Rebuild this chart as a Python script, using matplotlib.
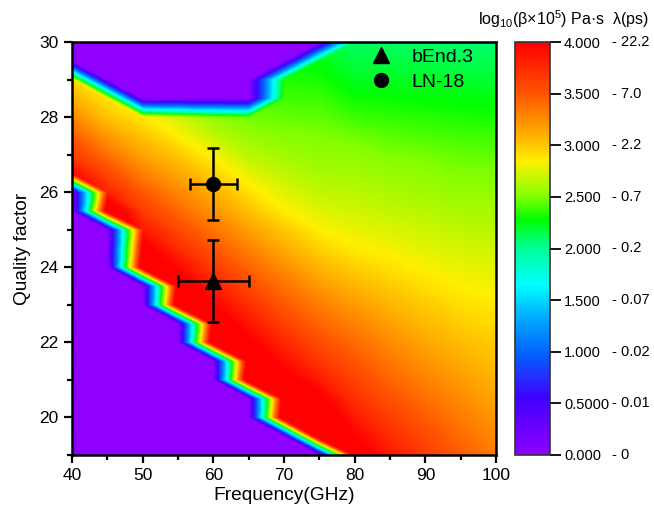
import numpy as np
import matplotlib
matplotlib.use('Agg')
import matplotlib.pyplot as plt
import matplotlib.tri as mtri
from matplotlib.colors import LinearSegmentedColormap
from matplotlib.ticker import MultipleLocator
from matplotlib.transforms import blended_transform_factory

plt.rcParams['font.family'] = ['Liberation Sans', 'DejaVu Sans']
plt.rcParams['mathtext.fontset'] = 'custom'
plt.rcParams['mathtext.rm'] = 'Liberation Sans'

# ---------------- data ----------------
freq_nodes = [40, 45, 50, 55, 60, 65, 70, 75, 80, 85, 90, 95, 100]
q_nodes = [30.0, 29.5, 29.0, 28.5, 28.0, 27.5, 27.0, 26.5, 26.0, 25.5, 25.0, 24.5,
           24.0, 23.5, 23.0, 22.5, 22.0, 21.5, 21.0, 20.5, 20.0, 19.5, 19.0]
# log10(beta x 1e5) on the (frequency, quality factor) grid; 0 = no solution
field = [
    [0,    0,    0,    0,    0,    0,    0,    0,    2.10, 2.10, 2.09, 2.08, 2.07],  # 30.0
    [0,    0,    0,    0,    0,    0,    0,    2.26, 2.16, 2.16, 2.15, 2.14, 2.13],  # 29.5
    [2.93, 0,    0,    0,    0,    0,    2.33, 2.32, 2.22, 2.22, 2.21, 2.20, 2.19],  # 29.0
    [3.10, 2.88, 0,    0,    0,    0,    2.39, 2.38, 2.30, 2.29, 2.27, 2.26, 2.25],  # 28.5
    [3.27, 3.02, 2.88, 2.72, 2.55, 2.47, 2.45, 2.44, 2.38, 2.36, 2.34, 2.33, 2.31],  # 28.0
    [3.48, 3.20, 3.02, 2.85, 2.68, 2.56, 2.52, 2.50, 2.47, 2.43, 2.41, 2.39, 2.38],  # 27.5
    [3.65, 3.38, 3.15, 3.00, 2.82, 2.66, 2.59, 2.55, 2.54, 2.50, 2.48, 2.45, 2.44],  # 27.0
    [3.95, 3.58, 3.31, 3.14, 2.96, 2.78, 2.67, 2.61, 2.60, 2.56, 2.54, 2.50, 2.50],  # 26.5
    [0,    3.80, 3.48, 3.28, 3.10, 2.90, 2.76, 2.68, 2.66, 2.62, 2.59, 2.56, 2.55],  # 26.0
    [0,    4.30, 3.65, 3.42, 3.22, 3.03, 2.86, 2.76, 2.72, 2.68, 2.65, 2.61, 2.61],  # 25.5
    [0,    0,    3.85, 3.57, 3.36, 3.17, 3.00, 2.85, 2.79, 2.75, 2.71, 2.67, 2.66],  # 25.0
    [0,    0,    4.10, 3.75, 3.50, 3.30, 3.12, 2.96, 2.87, 2.82, 2.77, 2.73, 2.71],  # 24.5
    [0,    0,    4.40, 3.95, 3.65, 3.43, 3.25, 3.08, 2.97, 2.90, 2.84, 2.79, 2.77],  # 24.0
    [0,    0,    0,    4.20, 3.82, 3.57, 3.37, 3.20, 3.08, 2.99, 2.91, 2.85, 2.82],  # 23.5
    [0,    0,    0,    4.50, 4.00, 3.72, 3.49, 3.32, 3.19, 3.08, 2.99, 2.92, 2.87],  # 23.0
    [0,    0,    0,    0,    4.20, 3.88, 3.62, 3.42, 3.30, 3.17, 3.06, 2.98, 2.92],  # 22.5
    [0,    0,    0,    0,    4.50, 4.05, 3.77, 3.55, 3.40, 3.26, 3.14, 3.05, 2.98],  # 22.0
    [0,    0,    0,    0,    0,    4.30, 3.92, 3.68, 3.50, 3.34, 3.22, 3.12, 3.03],  # 21.5
    [0,    0,    0,    0,    0,    4.60, 4.10, 3.85, 3.60, 3.43, 3.30, 3.19, 3.09],  # 21.0
    [0,    0,    0,    0,    0,    0,    4.30, 4.05, 3.72, 3.53, 3.38, 3.26, 3.14],  # 20.5
    [0,    0,    0,    0,    0,    0,    4.60, 4.30, 3.85, 3.63, 3.47, 3.33, 3.20],  # 20.0
    [0,    0,    0,    0,    0,    0,    0,    4.70, 4.00, 3.75, 3.56, 3.40, 3.26],  # 19.5
    [0,    0,    0,    0,    0,    0,    0,    0,    4.20, 3.85, 3.65, 3.47, 3.32],  # 19.0
]

cb_ticks = [0.0, 0.5, 1.0, 1.5, 2.0, 2.5, 3.0, 3.5, 4.0]
cb_ticklabels = ['0.000', '0.5000', '1.000', '1.500', '2.000', '2.500', '3.000', '3.500', '4.000']
lam_labels = ['- 0', '- 0.01', '- 0.02', '- 0.07', '- 0.2', '- 0.7', '- 2.2', '- 7.0', '- 22.2']

cell_names = ['bEnd.3', 'LN-18']
cell_freq = [60.0, 60.0]
cell_q = [23.63, 26.22]
cell_freq_err = [5.0, 3.3]
cell_q_err = [1.1, 0.95]
cell_markers = ['^', 'o']
cell_msize = [11, 10]

# Origin-like rainbow palette
cmap_pos = [0.00, 0.55, 1.00, 1.35, 1.65, 2.00, 2.28, 2.50, 2.85, 3.00, 3.20, 3.50, 4.00]
cmap_col = ['#8F00FF', '#4000FF', '#0066FF', '#00B0FF', '#00FFFF', '#00FF99', '#00FF00',
            '#80FF00', '#FFF000', '#FFC800', '#FF9900', '#FF5500', '#FF0000']
cmap = LinearSegmentedColormap.from_list('origin_rainbow',
                                         list(zip([p / 4.0 for p in cmap_pos], cmap_col)), N=512)

# ---------------- field rendering (linear interpolation on triangles) ----------------
F = np.array(field, dtype=float)[::-1]          # row 0 -> Q = 19
qv = np.array(q_nodes, dtype=float)[::-1]
fv = np.array(freq_nodes, dtype=float)
nq, nf = F.shape
FX, FQ = np.meshgrid(fv, qv)
Z = F.ravel()

tris = []
for j in range(nq - 1):
    for i in range(nf - 1):
        bl = j * nf + i
        br = bl + 1
        tl = bl + nf
        tr = tl + 1
        if abs(Z[tl] - Z[br]) <= abs(Z[bl] - Z[tr]):
            tris += [[bl, br, tl], [tl, br, tr]]
        else:
            tris += [[bl, br, tr], [bl, tr, tl]]
tri = mtri.Triangulation(FX.ravel(), FQ.ravel(), np.array(tris))
interp = mtri.LinearTriInterpolator(tri, Z)
NX, NY = 1200, 900
gx = 40 + (np.arange(NX) + 0.5) * 60.0 / NX
gy = 19 + (np.arange(NY) + 0.5) * 11.0 / NY
GX, GY = np.meshgrid(gx, gy)
Zi = np.ma.filled(interp(GX, GY), 0.0)

# ---------------- figure ----------------
W, H = 654, 513
fig = plt.figure(figsize=(W / 100, H / 100), dpi=100)
ax = fig.add_axes([72 / W, 1 - 455 / H, 424 / W, 413 / H])
cax = fig.add_axes([515 / W, 1 - 455 / H, 35 / W, 413 / H])

im = ax.imshow(Zi, extent=(40, 100, 19, 30), origin='lower', aspect='auto',
               cmap=cmap, vmin=0, vmax=4, interpolation='bilinear')

for name, x, y, xe, ye, mk, ms in zip(cell_names, cell_freq, cell_q, cell_freq_err,
                                       cell_q_err, cell_markers, cell_msize):
    ax.errorbar([x], [y], xerr=[xe], yerr=[ye], fmt='none', ecolor='black',
                elinewidth=1.8, capsize=4, capthick=1.8, zorder=4)
    ax.plot([x], [y], marker=mk, ls='none', color='black', ms=ms, label=name, zorder=5)

ax.set_xlim(40, 100)
ax.set_ylim(19, 30)
ax.set_xticks(np.arange(40, 101, 10))
ax.set_yticks(np.arange(20, 31, 2))
ax.xaxis.set_minor_locator(MultipleLocator(5))
ax.yaxis.set_minor_locator(MultipleLocator(1))
ax.tick_params(which='both', direction='out', width=1.6, labelsize=12.5, top=False, right=False)
ax.tick_params(which='major', length=6)
ax.tick_params(which='minor', length=3.5)
for sp in ax.spines.values():
    sp.set_linewidth(1.8)
ax.set_xlabel('Frequency(GHz)', fontsize=13.8, labelpad=3)
ax.set_ylabel('Quality factor', fontsize=13.8, labelpad=6)

leg = ax.legend(loc='upper left', bbox_to_anchor=(0.705, 0.985), frameon=False,
                fontsize=14, handlelength=1.0, handletextpad=1.1, labelspacing=0.4,
                borderpad=0, borderaxespad=0)

cb = fig.colorbar(im, cax=cax, ticks=cb_ticks)
cb.ax.set_yticklabels(cb_ticklabels)
cb.outline.set_edgecolor('#333333')
cb.outline.set_linewidth(1.2)
cax.tick_params(length=8, width=1.3, labelsize=10.5, pad=2, colors='black')
trans = blended_transform_factory(cax.transAxes, cax.transData)
for t, lab in zip(cb_ticks, lam_labels):
    cax.text(2.78, t, lab, transform=trans, ha='left', va='center', fontsize=10.5)

fig.text(0.862, 0.962, 'log$\\mathregular{_{10}}$(β×10$\\mathregular{^5}$) Pa·s  λ(ps)',
         ha='center', va='center', fontsize=11.5)

fig.savefig('out.png', dpi=100)
